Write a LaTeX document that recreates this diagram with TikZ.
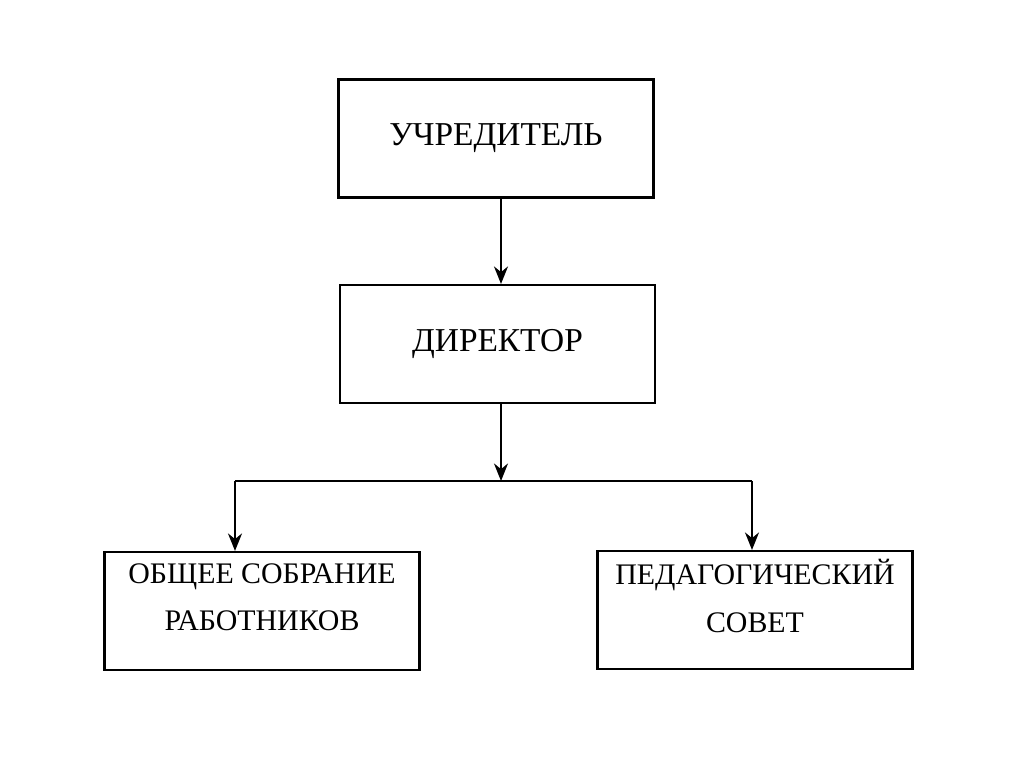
\documentclass[tikz,border=0pt]{standalone}
\usepackage{fontspec}
\setmainfont{Liberation Serif}
\usetikzlibrary{arrows.meta}
\tikzset{
  unit/.style={draw, line width=1.2pt, minimum width=6.3cm, minimum height=2.36cm,
    align=center, font=\fontsize{19}{24}\selectfont},
  lowtext/.style={align=center, font=\fontsize{17}{27}\selectfont},
  link/.style={line width=1pt, -{Stealth[length=10pt,width=8pt]}}
}
\begin{document}
\begin{tikzpicture}[x=0.02cm, y=-0.02cm]
	  \useasboundingbox (0, 0) rectangle (1024, 763);
	  % блоки
	  \node[unit] (founder) at (496, 138.5) {УЧРЕДИТЕЛЬ};
	  \node[unit] (director) at (497.5, 344) {ДИРЕКТОР};
	  \node[unit] (meeting) at (262, 611) {};
	  \node[unit] (council) at (755, 610) {};
	  \node[lowtext] (meetingtext) at (262, 597) {ОБЩЕЕ СОБРАНИЕ\\РАБОТНИКОВ};
	  \node[lowtext] (counciltext) at (755, 596) {ПЕДАГОГИЧЕСКИЙ\\СОВЕТ};
	  % развилка
	  \coordinate (fork) at (501, 481);
	  \coordinate (left) at (235, 481);
	  \coordinate (right) at (752, 481);
	  % связи
	  \draw[link] (founder.south -| fork) -- (director.north -| fork);
	  \draw[link] (director.south -| fork) -- (fork);
	  \draw[line width=1pt] (left) -- (right);
	  \draw[link] (left) -- (meeting.north -| left);
	  \draw[link] (right) -- (council.north -| right);
	\end{tikzpicture}
\end{document}
